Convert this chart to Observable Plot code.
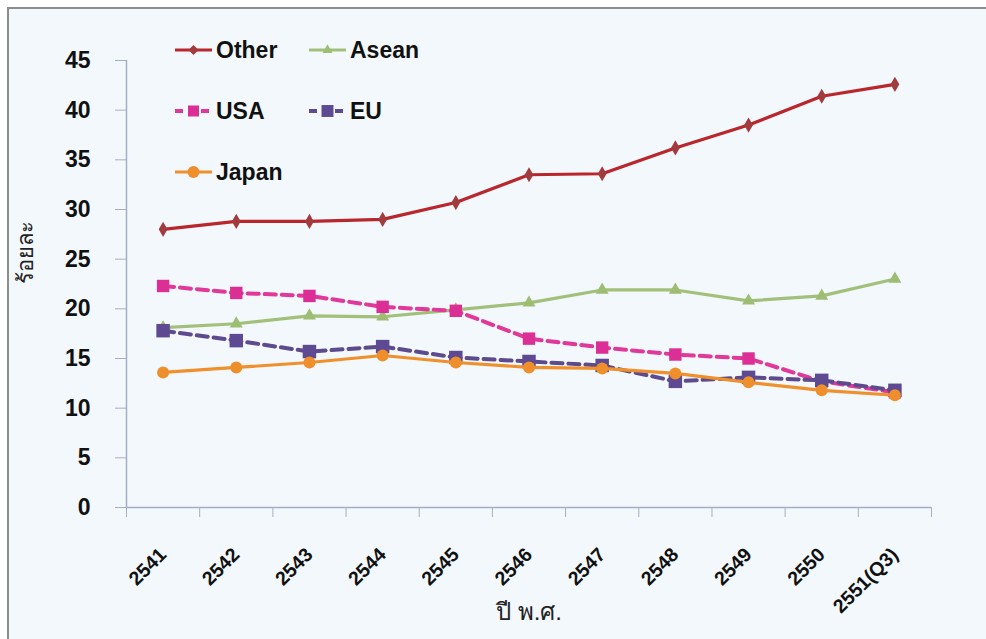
<!DOCTYPE html>
<html>
<head>
<meta charset="utf-8">
<script src="https://cdn.jsdelivr.net/npm/d3@7"></script>
<script src="https://cdn.jsdelivr.net/npm/@observablehq/plot@0.6"></script>
<style>
  html, body { margin: 0; padding: 0; background: #ffffff; overflow: hidden; width: 986px; height: 639px; }
  #frame { position: absolute; left: 7px; top: 7px; width: 1000px; height: 650px;
           border-left: 2px solid #8c8c8c; border-top: 2px solid #8c8c8c; background: #f3f8fc; }
  #chart { position: absolute; left: 0; top: 0; }
  #legend { position: absolute; left: 0; top: 0; }
</style>
</head>
<body>
<div id="frame"></div>
<div id="chart"></div>
<svg id="legend" width="986" height="639"></svg>
<script>
// Share (%) by partner, Thai Buddhist-era years
const years = ["2541", "2542", "2543", "2544", "2545", "2546", "2547", "2548", "2549", "2550", "2551(Q3)"];
const other = [28.0, 28.8, 28.8, 29.0, 30.7, 33.5, 33.6, 36.2, 38.5, 41.4, 42.6];
const asean = [18.1, 18.5, 19.3, 19.2, 19.9, 20.6, 21.9, 21.9, 20.8, 21.3, 23.0];
const usa   = [22.3, 21.6, 21.3, 20.2, 19.8, 17.0, 16.1, 15.4, 15.0, 12.7, 11.6];
const eu    = [17.8, 16.8, 15.7, 16.2, 15.1, 14.7, 14.3, 12.7, 13.1, 12.8, 11.8];
const japan = [13.6, 14.1, 14.6, 15.3, 14.6, 14.1, 14.0, 13.5, 12.6, 11.8, 11.3];
const yTicks = [0, 5, 10, 15, 20, 25, 30, 35, 40, 45];

const series = [
  {name: "Other", values: other, line: "#b9262b", marker: "#a23b3d", symbol: "diamond",  r: 4.6, dash: null,   width: 3.2},
  {name: "Asean", values: asean, line: "#a2c07a", marker: "#9dbd72", symbol: "triangle", r: 4.8, dash: null,   width: 3.2},
  {name: "USA",   values: usa,   line: "#e0399a", marker: "#dc2f95", symbol: "square",   r: 7.0, dash: "11,6", width: 4},
  {name: "EU",    values: eu,    line: "#5d4b8e", marker: "#5e4a92", symbol: "square",   r: 7.6, dash: "11,6", width: 4},
  {name: "Japan", values: japan, line: "#f0902c", marker: "#ef8f2b", symbol: "circle",   r: 6.0, dash: null,   width: 3.2}
];

const idx = d3.range(years.length);
const axisColor = "#a6aec4";

const seriesMarks = series.flatMap(s => {
  const rows = s.values.map((v, i) => ({i, v}));
  return [
    Plot.line(rows, {x: "i", y: "v", stroke: s.line, strokeWidth: s.width,
                     strokeDasharray: s.dash, strokeLinejoin: "round"}),
    Plot.dot(rows, {x: "i", y: "v", symbol: () => s.symbol, r: s.r, fill: s.marker, stroke: "none"})
  ];
});

const chart = Plot.plot({
  width: 986,
  height: 639,
  marginLeft: 126,
  marginRight: 55,
  marginTop: 60,
  marginBottom: 132,
  style: {background: "none", fontFamily: "'Liberation Sans', Arial, sans-serif", color: "#111", overflow: "visible"},
  x: {type: "linear", domain: [-0.5, years.length - 0.5]},
  y: {domain: [0, 45]},
  symbol: {type: "identity"},
  marks: [
    Plot.ruleY([0], {stroke: axisColor, strokeWidth: 1.5}),
    Plot.ruleX([-0.5], {stroke: axisColor, strokeWidth: 1.5}),
    Plot.axisY({ticks: yTicks, tickSize: 11, tickPadding: 25, fontSize: 23, fontWeight: "bold",
                stroke: axisColor, fill: "#111", label: null}),
    Plot.axisX({ticks: d3.range(-0.5, years.length, 1), tickSize: 10, tickFormat: () => "",
                stroke: axisColor, label: null}),
    Plot.axisX({ticks: idx, tickSize: 0, tickPadding: 44, tickRotate: -45, tickFormat: i => years[i],
                fontSize: 19.5, fontWeight: "bold", fill: "#111", label: null}),
    Plot.text(["ร้อยละ"], {frameAnchor: "left", dx: -101, rotate: -90, fontSize: 22, fill: "#222"}),
    Plot.text(["ปี พ.ศ."], {frameAnchor: "bottom", dy: 112, fontSize: 24, fill: "#222"}),
    ...seriesMarks
  ]
});
document.getElementById("chart").append(chart);

// Legend laid out in three rows inside the plot area
const legendPos = [
  {x: 175, y: 50},  {x: 309, y: 50},
  {x: 175, y: 111}, {x: 309, y: 111},
  {x: 175, y: 172}
];
const legend = d3.select("#legend");
series.forEach((s, k) => {
  const p = legendPos[k];
  const g = legend.append("g").attr("transform", `translate(${p.x},${p.y})`);
  g.append("line").attr("x1", 0).attr("x2", 37).attr("y1", 0).attr("y2", 0)
    .attr("stroke", s.line).attr("stroke-width", s.width)
    .attr("stroke-dasharray", s.dash ? "8,5" : null);
  const sym = {diamond: d3.symbolDiamond2, triangle: d3.symbolTriangle2, square: d3.symbolSquare2, circle: d3.symbolCircle}[s.symbol];
  g.append("path").attr("transform", "translate(18.5,0)")
    .attr("d", d3.symbol(sym, Math.PI * s.r * s.r)())
    .attr("fill", s.marker);
  g.append("text").attr("x", 41).attr("y", 8)
    .attr("font-family", "'Liberation Sans', Arial, sans-serif")
    .attr("font-weight", "bold").attr("font-size", 23).attr("fill", "#111")
    .text(s.name);
});
</script>
</body>
</html>
